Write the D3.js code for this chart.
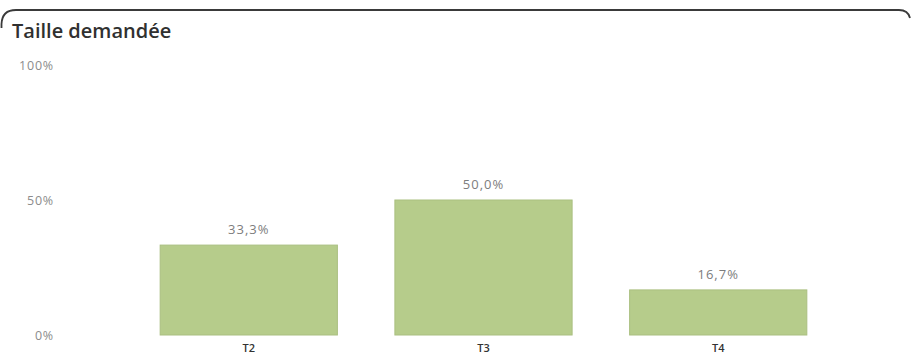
<!DOCTYPE html>
<html>
<head>
<meta charset="utf-8">
<script src="https://cdn.jsdelivr.net/npm/d3@7"></script>
<style>
  html, body { margin: 0; padding: 0; background: #fff; }
  svg { display: block; }
</style>
</head>
<body>
<svg id="chart" width="912" height="358"></svg>
<script>
// Répartition des demandes par taille de logement
const categories = ["T2", "T3", "T4"];
const shares = [33.3, 50.0, 16.7];
const tickValues = [0, 50, 100];
const tickLabels = ["0%", "50%", "100%"];
const title = "Taille demandée";

const svg = d3.select("#chart");

// Card outline: rounded frame, dark along the top
svg.append("path")
  .attr("d", "M1.5,28 L1.5,24 Q2,10 16,10 L899,10 Q908,10 910,18")
  .attr("fill", "none")
  .attr("stroke", "#3a3a3a")
  .attr("stroke-width", 1.8);

svg.append("text")
  .attr("x", 12).attr("y", 38)
  .attr("font-family", "'Open Sans', sans-serif")
  .attr("font-size", 20)
  .attr("font-weight", 600)
  .attr("fill", "#303030")
  .text(title);

const x = d3.scaleBand()
  .domain(categories)
  .range([132, 835])
  .paddingInner(0.245)
  .paddingOuter(0.12);

const y = d3.scaleLinear()
  .domain([0, 100])
  .range([335, 65]);

// Y axis: labels only
const yAxis = d3.axisLeft(y)
  .tickValues(tickValues)
  .tickFormat((d, i) => tickLabels[i])
  .tickSize(0)
  .tickPadding(0);

const gy = svg.append("g")
  .attr("transform", "translate(54,0)")
  .call(yAxis);
gy.select(".domain").remove();
gy.selectAll("text")
  .attr("font-family", "'Open Sans', sans-serif")
  .attr("font-size", 12.5)
  .attr("letter-spacing", 0.8)
  .attr("fill", "#8c8c8c")
  .attr("dy", "0.32em");

// Bars
svg.append("g").selectAll("rect")
  .data(categories)
  .join("rect")
  .attr("x", d => x(d))
  .attr("y", (d, i) => y(shares[i]))
  .attr("width", x.bandwidth())
  .attr("height", (d, i) => y(0) - y(shares[i]))
  .attr("fill", "#b6cc8b")
  .attr("stroke", "#aabf80")
  .attr("stroke-width", 1);

// Value labels
svg.append("g").selectAll("text")
  .data(categories)
  .join("text")
  .attr("x", d => x(d) + x.bandwidth() / 2)
  .attr("y", (d, i) => y(shares[i]) - 11)
  .attr("text-anchor", "middle")
  .attr("font-family", "'Open Sans', sans-serif")
  .attr("font-size", 13)
  .attr("letter-spacing", 1)
  .attr("fill", "#7d7d7d")
  .text((d, i) => shares[i].toFixed(1).replace(".", ",") + "%");

// X axis: category labels only
const xAxis = d3.axisBottom(x).tickSize(0).tickPadding(0);
const gx = svg.append("g")
  .attr("transform", "translate(0,344)")
  .call(xAxis);
gx.select(".domain").remove();
gx.selectAll("text")
  .attr("font-family", "'Open Sans', sans-serif")
  .attr("font-size", 11)
  .attr("font-weight", 600)
  .attr("fill", "#333")
  .attr("dy", "0.71em");
</script>
</body>
</html>
